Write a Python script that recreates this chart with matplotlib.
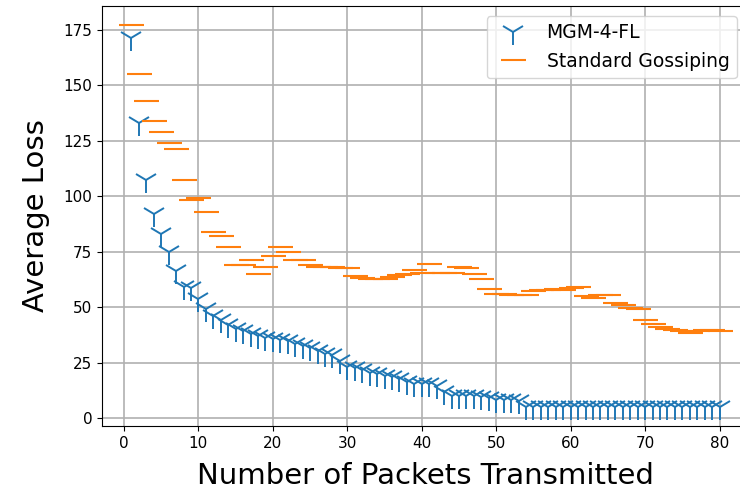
import numpy as np
import matplotlib
matplotlib.use("Agg")
import matplotlib.pyplot as plt

# packets sent, one point per packet
packets = np.arange(1, 81)

# average loss for MGM-4-FL
mgm_loss = [171, 133, 107, 92, 83, 75, 66, 59, 58.5, 53.5,
            49, 46, 44, 42, 40, 39, 38, 37, 36, 35.5,
            35, 34.5, 33.5, 32.5, 31.5, 30, 29, 28.5, 25.5, 23,
            22.5, 21.5, 20.5, 20, 19, 18.5, 17.5, 16, 15.5, 15.5,
            15.5, 14.5, 11.5, 10, 10, 10, 10, 9.5, 9, 8,
            8, 8, 7.5, 5, 5, 5, 5, 5, 5, 5,
            5, 5, 5, 5, 5, 5, 5, 5, 5, 5,
            5, 5, 5, 5, 5, 5, 5, 5, 5, 5]

# average loss for standard gossiping
gossip_loss = [177, 155, 143, 134, 129, 124, 121, 107, 98, 99,
               93, 84, 82, 77, 69, 69, 71, 65, 68, 73,
               77, 75, 71, 71, 69, 68, 68, 68, 67.5, 67.5,
               64, 63, 62.5, 62.5, 62.5, 63.5, 64.5, 65, 66.5, 65.5,
               69.5, 65.5, 65.5, 65.5, 68, 67.5, 65, 62.5, 58, 56,
               56, 55.5, 55.5, 55.5, 57, 57.5, 57.5, 58, 57.5, 58.5,
               59, 55, 54, 55.5, 55.5, 52, 51, 49.5, 49, 44,
               42.5, 41, 40, 39.5, 39, 38.5, 39, 39.5, 39.5, 39]

fig = plt.figure(figsize=(7.4, 4.94), dpi=100)
ax = fig.add_subplot(111)
# the axes run a little past the right edge of the figure
fig.subplots_adjust(left=102/740, right=749/740, top=1-6/494, bottom=1-426/494)

ax.plot(packets, mgm_loss, linestyle='none', marker='1', markersize=18,
        markeredgewidth=1.4, color='#1f77b4', label='MGM-4-FL')
ax.plot(packets, gossip_loss, linestyle='none', marker='_', markersize=18,
        markeredgewidth=1.5, color='#ff7f0e', label='Standard Gossiping')

ax.set_xlim(-2.95, 83.95)
ax.set_ylim(-3.6, 185.6)
ax.set_xticks(np.arange(0, 81, 10))
ax.set_yticks(np.arange(0, 176, 25))
ax.tick_params(labelsize=11)
ax.grid(True, linewidth=1.2)
ax.set_xlabel('Number of Packets Transmitted', fontsize=21, labelpad=8)
ax.set_ylabel('Average Loss', fontsize=21, labelpad=10)
ax.legend(loc='upper right', fontsize=13.5, borderaxespad=0,
          bbox_to_anchor=(737/740, 1-16/494), bbox_transform=fig.transFigure)

fig.savefig('out.png', dpi=100)
